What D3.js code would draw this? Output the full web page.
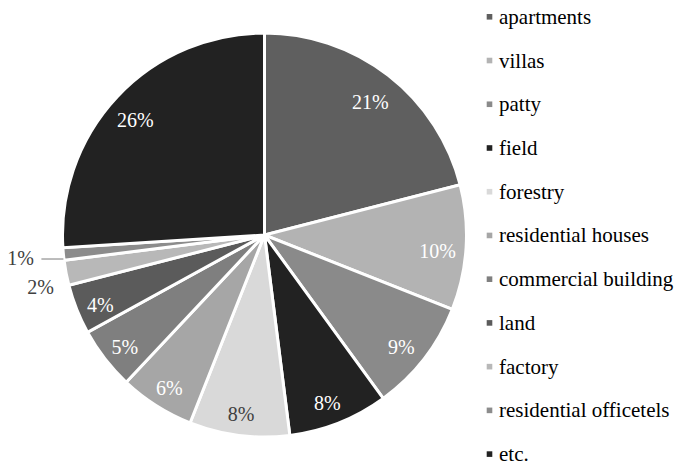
<!DOCTYPE html>
<html><head><meta charset="utf-8">
<script src="https://cdn.jsdelivr.net/npm/d3@7/dist/d3.min.js"></script>
</head><body style="margin:0"><svg id="c" width="674" height="465" font-family="Liberation Serif"></svg>
<script>
const categories = ["apartments","villas","patty","field","forestry","residential houses","commercial building","land","factory","residential officetels","etc."];
const values = [21,10,9,8,8,6,5,4,2,1,26];
const labels = ["21%","10%","9%","8%","8%","6%","5%","4%","2%","1%","26%"];
const colors = ["#5f5f5f","#b3b3b3","#8a8a8a","#222222","#d9d9d9","#a6a6a6","#7f7f7f","#5b5b5b","#b8b8b8","#8c8c8c","#222222"];
const labelColors = ["#fff","#fff","#fff","#fff","#404040","#fff","#fff","#fff","#404040","#404040","#fff"];
const outside = [false,false,false,false,false,false,false,false,true,true,false];

const FONT = '"Liberation Serif"';
const svg = d3.select("#c");
const cx = 264.5, cy = 235, R = 202;
const g = svg.append("g").attr("transform", `translate(${cx},${cy})`);
const pie = d3.pie().sort(null).value(d => d)(values);
const arc = d3.arc().innerRadius(0).outerRadius(R);
g.selectAll("path.s").data(pie).join("path").attr("class","s")
  .attr("d", arc).attr("fill", d => colors[d.index])
  .attr("stroke", "#fff").attr("stroke-width", 3).attr("stroke-linejoin","miter");

const labArc = d3.arc().innerRadius(175).outerRadius(175);
pie.filter(d => !outside[d.index]).forEach(d => {
  const c = labArc.centroid(d);
  g.append("text").attr("x", c[0] - 1.5).attr("y", c[1] + 5.5 + 6.7)
    .attr("text-anchor","middle")
    .style("font-family", FONT).attr("font-size", 20)
    .attr("fill", labelColors[d.index])
    .text(labels[d.index]);
});

// outside labels
pie.forEach(d => {
  const i = d.index;
  if (!outside[i]) return;
  const a = (d.startAngle + d.endAngle) / 2;
  const isOne = values[i] === 1;
  const rr = isOne ? 245 : 228;
  const x = Math.sin(a) * rr, y = -Math.cos(a) * rr + (isOne ? 0 : 10);
  g.append("text").attr("x", x).attr("y", y + 6.7)
    .attr("text-anchor","middle")
    .style("font-family", FONT).attr("font-size", 20).attr("fill", "#404040")
    .text(labels[i]);
  if (isOne) {
    const ly = -Math.cos(a) * R + 5;
    const lx = Math.sin(a) * R;
    g.append("line").attr("x1", lx).attr("x2", lx - 22)
      .attr("y1", ly).attr("y2", ly).attr("stroke", "#a6a6a6").attr("stroke-width", 1.5);
  }
});

// legend
const legX = 489.5, legY0 = 16.8, legStep = 43.73;
const leg = svg.append("g");
categories.forEach((c,i) => {
  const y = legY0 + i*legStep;
  leg.append("rect").attr("x", legX-2.8).attr("y", y-2.8).attr("width", 5.6).attr("height", 5.6).attr("fill", colors[i]);
  leg.append("text").attr("x", legX+9.5).attr("y", y + 7)
    .style("font-family", FONT).attr("font-size", 21).attr("fill", "#000").text(c);
});
</script></body></html>
